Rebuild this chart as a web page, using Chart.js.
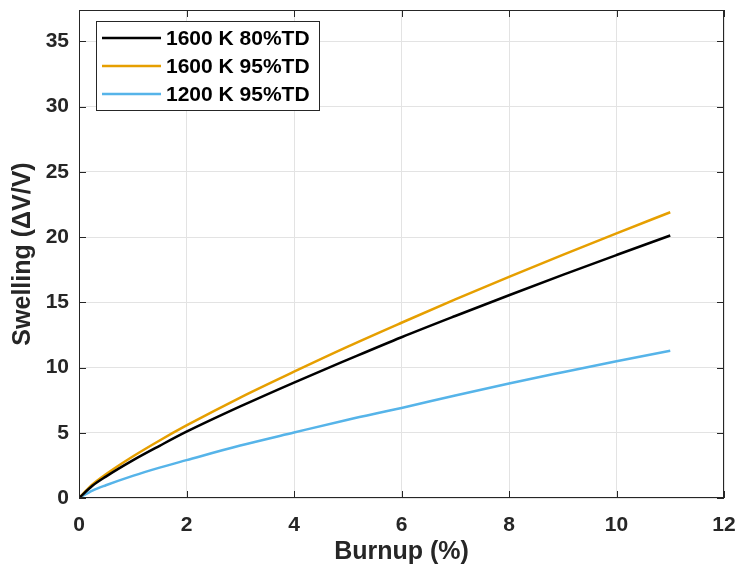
<!DOCTYPE html>
<html lang="en">
<head>
  <meta charset="UTF-8" />
  <title>Swelling vs Burnup</title>
  <script src="https://cdn.jsdelivr.net/npm/chart.js"></script>
  <style>
    html, body { margin: 0; padding: 0; background: #fff; }
    #wrap { width: 740px; height: 574px; }
  </style>
</head>
<body>
  <div id="wrap"><canvas id="swellChart" width="740" height="574"></canvas></div>

  <script>
    // burnup (%) sample points
    const burnup = [0, 0.25, 0.5, 1, 1.5, 2, 3, 4, 5, 6, 7, 8, 9, 10, 11];
    // swelling (dV/V)
    const k1600td80 = [0, 0.94, 1.64, 2.88, 4.0, 5.08, 7.02, 8.85, 10.6, 12.32, 13.95, 15.54, 17.1, 18.62, 20.12];
    const k1600td95 = [0, 1.04, 1.82, 3.18, 4.41, 5.56, 7.7, 9.68, 11.6, 13.43, 15.22, 16.95, 18.63, 20.28, 21.9];
    const k1200td95 = [0, 0.57, 0.98, 1.7, 2.33, 2.9, 4.02, 5.02, 6.0, 6.9, 7.86, 8.78, 9.64, 10.48, 11.28];

    const seriesNames = ["1600 K 80%TD", "1600 K 95%TD", "1200 K 95%TD"];
    const seriesColors = ["#000000", "#E69F00", "#56B4E9"];

    const xTicks = [0, 2, 4, 6, 8, 10, 12];
    const yTicks = [0, 5, 10, 15, 20, 25, 30, 35];

    const axisColor = "#262626";
    const fontFamily = "'Liberation Sans', Arial, Helvetica, sans-serif";

    const toPoints = ys => burnup.map((x, i) => ({ x: x, y: ys[i] }));

    // matlab style box with inward ticks on all sides
    const boxPlugin = {
      id: "box",
      afterDatasetsDraw(chart) {
        const { ctx, chartArea: a, scales } = chart;
        ctx.save();
        ctx.strokeStyle = axisColor;
        ctx.lineWidth = 1;
        ctx.strokeRect(a.left + 0.5, a.top + 0.5, a.right - a.left - 1, a.bottom - a.top - 1);
        ctx.beginPath();
        xTicks.forEach(v => {
          const px = Math.round(scales.x.getPixelForValue(v)) + 0.5;
          ctx.moveTo(px, a.bottom); ctx.lineTo(px, a.bottom - 7);
          ctx.moveTo(px, a.top); ctx.lineTo(px, a.top + 7);
        });
        yTicks.forEach(v => {
          const py = Math.round(scales.y.getPixelForValue(v)) + 0.5;
          ctx.moveTo(a.left, py); ctx.lineTo(a.left + 7, py);
          ctx.moveTo(a.right, py); ctx.lineTo(a.right - 7, py);
        });
        ctx.stroke();

        // legend inside the axes
        const lx = a.left + 17, ly = a.top + 11, lw = 223, lh = 89;
        ctx.fillStyle = "#fff";
        ctx.fillRect(lx, ly, lw, lh);
        ctx.strokeStyle = axisColor;
        ctx.lineWidth = 1;
        ctx.strokeRect(lx + 0.5, ly + 0.5, lw, lh);
        ctx.font = "bold 21px " + fontFamily;
        ctx.textBaseline = "middle";
        seriesNames.forEach((name, i) => {
          const y = ly + 17 + i * 28;
          ctx.strokeStyle = seriesColors[i];
          ctx.lineWidth = 2.5;
          ctx.beginPath();
          ctx.moveTo(lx + 6, y); ctx.lineTo(lx + 65, y);
          ctx.stroke();
          ctx.fillStyle = "#000";
          ctx.fillText(name, lx + 70, y + 1);
        });
        ctx.restore();
      }
    };

    new Chart(document.getElementById("swellChart"), {
      type: "scatter",
      data: {
        datasets: [k1600td80, k1600td95, k1200td95].map((ys, i) => ({
          label: seriesNames[i],
          data: toPoints(ys),
          showLine: true,
          borderColor: seriesColors[i],
          backgroundColor: seriesColors[i],
          borderWidth: 2.5,
          pointRadius: 0,
          cubicInterpolationMode: "monotone"
        }))
      },
      options: {
        responsive: false,
        animation: false,
        layout: { padding: { top: 10, right: 16, left: 0, bottom: 0 } },
        plugins: {
          legend: { display: false },
          tooltip: { enabled: false }
        },
        scales: {
          x: {
            type: "linear",
            min: 0, max: 12,
            afterBuildTicks: s => { s.ticks = xTicks.map(v => ({ value: v })); },
            afterFit: s => { s.height = 76; s.paddingLeft = 0; s.paddingRight = 0; },
            grid: { color: "#e3e3e3", drawTicks: false },
            border: { display: false },
            ticks: {
              padding: 15,
              color: axisColor,
              font: { family: fontFamily, size: 21, weight: "bold" }
            },
            title: {
              display: true,
              text: "Burnup (%)",
              color: axisColor,
              padding: { top: 4, bottom: 7 },
              font: { family: fontFamily, size: 25, weight: "bold" }
            }
          },
          y: {
            type: "linear",
            min: 0, max: 37.4,
            afterBuildTicks: s => { s.ticks = yTicks.map(v => ({ value: v })); },
            afterFit: s => { s.width = 79; s.paddingTop = 0; s.paddingBottom = 0; },
            grid: { color: "#e3e3e3", drawTicks: false },
            border: { display: false },
            ticks: {
              padding: 10,
              color: axisColor,
              font: { family: fontFamily, size: 21, weight: "bold" }
            },
            title: {
              display: true,
              text: "Swelling (ΔV/V)",
              color: axisColor,
              padding: { top: 8, bottom: 4 },
              font: { family: fontFamily, size: 25, weight: "bold" }
            }
          }
        }
      },
      plugins: [boxPlugin]
    });
  </script>
</body>
</html>
